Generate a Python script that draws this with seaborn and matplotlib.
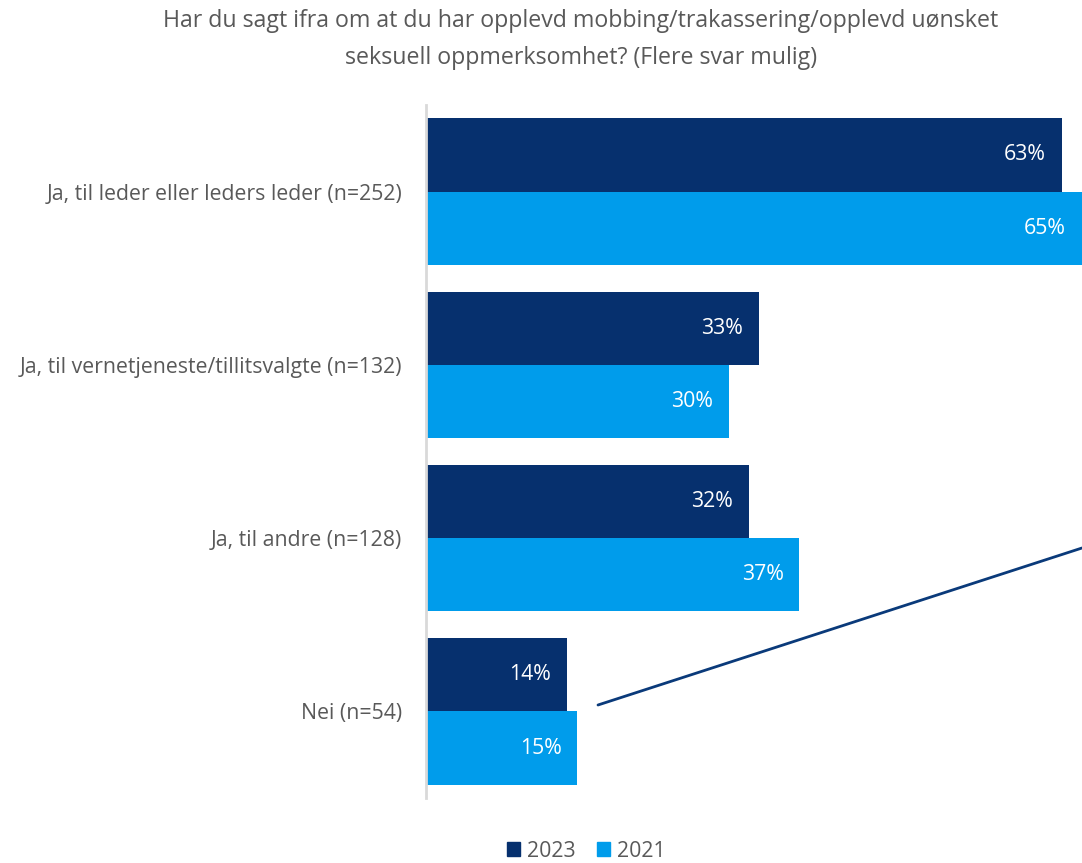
import matplotlib
matplotlib.use("Agg")
import matplotlib.pyplot as plt
from matplotlib.lines import Line2D
from matplotlib.patches import Rectangle
import pandas as pd
import seaborn as sns

categories = [
    "Ja, til leder eller leders leder (n=252)",
    "Ja, til vernetjeneste/tillitsvalgte (n=132)",
    "Ja, til andre (n=128)",
    "Nei (n=54)",
]
years = ["2023", "2021"]
values_2023 = [63, 33, 32, 14]
values_2021 = [65, 30, 37, 15]

title = ("Har du sagt ifra om at du har opplevd mobbing/trakassering/opplevd uønsket\n"
         "seksuell oppmerksomhet? (Flere svar mulig)")

colors = {"2023": "#06306E", "2021": "#009CEB"}
text_grey = "#595959"

df = pd.DataFrame({
    "kategori": categories * 2,
    "år": [years[0]] * len(categories) + [years[1]] * len(categories),
    "andel": values_2023 + values_2021,
})

sns.set_theme(style="white")
plt.rcParams["font.family"] = ["Open Sans", "DejaVu Sans"]

fig = plt.figure(figsize=(10.82, 8.63), dpi=100)
ax = fig.add_axes([426 / 1082, 1 - 798 / 863, 1 - 426 / 1082, (798 - 105) / 863])

sns.barplot(data=df, x="andel", y="kategori", hue="år", hue_order=years,
            order=categories, palette=colors, orient="h", width=0.846,
            gap=0, saturation=1, ax=ax, legend=False, edgecolor="none")

ax.set_xlim(0, 65)
ax.set_ylim(3.5, -0.5)
ax.set_xlabel("")
ax.set_ylabel("")
ax.set_xticks([])
ax.tick_params(axis="y", length=0, pad=17, labelsize=15.3, labelcolor=text_grey)

for side in ["top", "right", "bottom"]:
    ax.spines[side].set_visible(False)
ax.spines["left"].set_color("#D9D9D9")
ax.spines["left"].set_linewidth(2)

# value labels, right-aligned just inside the end of each bar
for container in ax.containers:
    labels = ax.bar_label(container,
                          labels=[f"{v:.0f}%" for v in container.datavalues],
                          label_type="edge", padding=-11.5, color="white",
                          fontsize=15.3)
    for t in labels:
        t.set_ha("right")

fig.text(581 / 1082, 1 - 39.5 / 863, title, ha="center", va="center",
         fontsize=16.7, color=text_grey, linespacing=1.68)

# connector line across the lower right
fig.add_artist(Line2D([598 / 1082, 1.0], [1 - 705 / 863, 1 - 548 / 863],
                      transform=fig.transFigure, color="#0A3A7A", linewidth=2))

handles = [Rectangle((0, 0), 1, 1, color=colors[y]) for y in years]
fig.legend(handles, years, loc="center", bbox_to_anchor=(586 / 1082, 1 - 851 / 863),
           ncol=2, frameon=False, fontsize=15.3, labelcolor=text_grey,
           handlelength=0.65, handleheight=0.65, handletextpad=0.3, columnspacing=1.0)

fig.savefig("out.png", dpi=100)
